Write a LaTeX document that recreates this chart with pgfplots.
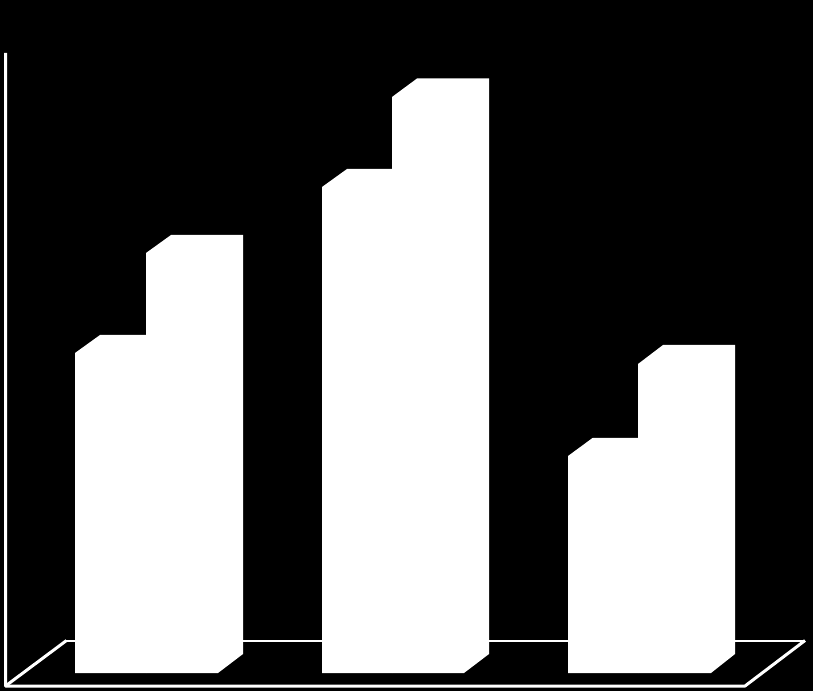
\documentclass[border=0pt]{standalone}
\usepackage{pgfplots}
\pgfplotsset{compat=1.18}

\begin{document}
\begin{tikzpicture}
    \begin{axis}[
        scale only axis,
        width=813pt,
        height=691pt,
        xmin=0, xmax=813,
        ymin=-18, ymax=673,
        ticks=none,
        axis line style={draw=none},
        axis background/.style={fill=black},
        bar3d/.style={fill=white, draw=none, line width=0pt},
        frameline/.style={white, line width=3pt, line join=round, no marks},
        ]
        % floor and wall
        \addplot[frameline] coordinates {(5.5,620) (5.5,-13) (745,-13) (805,32.5)};
        \addplot[frameline] coordinates {(5.5,-13) (66.5,32.5)};
        \addplot[white, line width=2pt, no marks] coordinates {(66,32.5) (805,32.5)};
        % group 1
        \addplot[bar3d] coordinates {(75,0) (75,320) (100,338) (171,338) (171,19) (146,0)} \closedcycle;
        \addplot[bar3d] coordinates {(146,0) (146,420) (171,438) (243,438) (243,19) (218,0)} \closedcycle;
        % group 2
        \addplot[bar3d] coordinates {(322,0) (322,486) (347,504) (417,504) (417,19) (392,0)} \closedcycle;
        \addplot[bar3d] coordinates {(392,0) (392,576) (417,594.5) (489,594.5) (489,19) (464,0)} \closedcycle;
        % group 3
        \addplot[bar3d] coordinates {(568,0) (568,217) (592.5,235) (663,235) (663,19) (638,0)} \closedcycle;
        \addplot[bar3d] coordinates {(638,0) (638,309) (663,328) (735,328) (735,19) (711,0)} \closedcycle;
    \end{axis}
\end{tikzpicture}
\end{document}
